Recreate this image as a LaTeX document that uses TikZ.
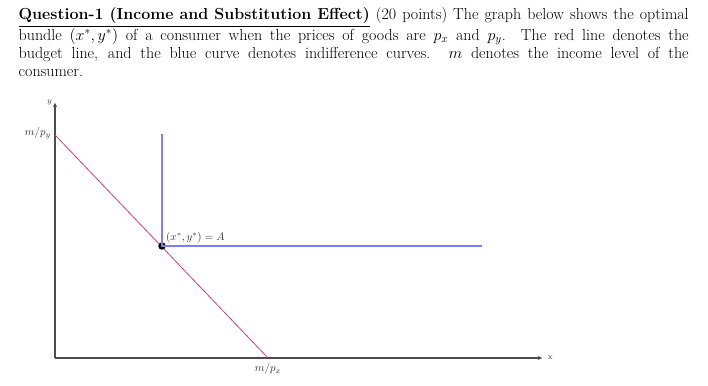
\RequirePackage{fix-cm}
\documentclass[tikz,border=0pt]{standalone}
\usepackage{amsmath}
\usepackage{tikz}
\usetikzlibrary{arrows.meta}

\definecolor{budgetred}{RGB}{222,60,110}
\definecolor{indiffblue}{RGB}{125,125,255}

\begin{document}
\begin{tikzpicture}[x=1pt, y=1pt,
      axis/.style   = {-{Stealth[length=4pt, width=4pt]}, line width=1.3pt, black!70},
      budget/.style = {line width=0.8pt, budgetred},
      indiff/.style = {line width=1.3pt, indiffblue},
      lbl/.style    = {font=\fontsize{11}{13}\selectfont, inner sep=1pt, black!80},
      axlbl/.style  = {font=\fontsize{8}{9}\selectfont, inner sep=1pt, black!80}]
    \useasboundingbox (0,0) rectangle (708,385);
    % the question text above the graph
    \node[anchor=base west, inner sep=0pt, text width=670pt, align=justify,
          font=\fontsize{16}{18.2}\selectfont] (question) at (18.5,365)
      {\underline{\textbf{Question-1 (Income and Substitution Effect)}} (20 points)
       The graph below shows the optimal\linebreak bundle $(x^*, y^*)$ of a consumer
       when the prices of goods are $p_x$ and $p_y$. The red line denotes the\linebreak
       budget line, and the blue curve denotes indifference curves.  $m$ denotes the
       income level of the\linebreak consumer.};
    % axes
    \coordinate (orig) at (55,27);
    \coordinate (ytop) at (55,282);
    \coordinate (xend) at (542,27);
    \draw[axis] (orig) -- (ytop);
    \draw[axis] (orig) -- (xend);
    \node[axlbl, anchor=east] (ylab) at ([xshift=-2pt]ytop) {$y$};
    \node[axlbl, anchor=west] (xlab) at ([xshift=5pt]xend) {x};
    % budget line and its intercepts
    \coordinate (yint) at (55,250);
    \coordinate (xint) at (268,27);
    \draw[budget] (yint) -- (xint);
    \node[lbl, anchor=east] (mpy) at ([xshift=-3pt,yshift=2pt]yint) {$m/p_y$};
    \node[lbl, anchor=north] (mpx) at ([yshift=-4pt]xint) {$m/p_x$};
    % indifference curve (perfect complements) through the optimum
    \coordinate (ictop) at (162,251);
    \coordinate (icend) at (482,139);
    \node[circle, fill=black, inner sep=0pt, minimum size=7.5pt] (opt) at (162,139) {};
    \draw[indiff] (ictop) -- (opt.center) -- (icend);
    \node[lbl, anchor=south west] (optlab)
      at ([xshift=3pt,yshift=2pt]opt.center) {$(x^*, y^*) = A$};
\end{tikzpicture}
\end{document}
